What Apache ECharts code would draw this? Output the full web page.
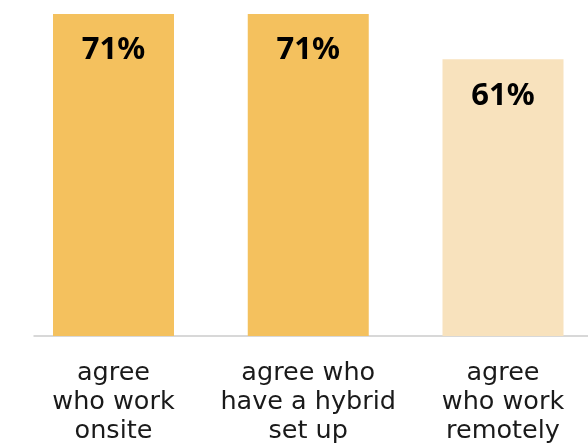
<!DOCTYPE html>
<html>
<head>
<meta charset="utf-8">
<script src="https://cdn.jsdelivr.net/npm/echarts@6/dist/echarts.min.js"></script>
<style>
html,body{margin:0;padding:0;background:#fff;}
#c{width:588px;height:446px;}
</style>
</head>
<body>
<div id="c"></div>
<script>
const categories = ['agree\nwho work\nonsite', 'agree who\nhave a hybrid\nset up', 'agree\nwho work\nremotely'];
const values = [71, 71, 61];
const barColors = ['#F4C15E', '#F4C15E', '#F8E2BD'];

const chart = echarts.init(document.getElementById('c'), null, {renderer: 'canvas'});
chart.setOption({
  animation: false,
  backgroundColor: '#ffffff',
  grid: [
    {left: 113.5, right: 85, top: 14, bottom: 110},
    {left: 34, right: 0, top: 14, bottom: 110}
  ],
  xAxis: [
    {
      type: 'category', gridIndex: 0, data: categories, boundaryGap: false,
      axisLine: {show: false}, axisTick: {show: false},
      axisLabel: {
        interval: 0, margin: 23, color: '#1a1a1a',
        fontFamily: 'DejaVu Sans', fontSize: 25.5, lineHeight: 29
      }
    },
    {
      type: 'value', gridIndex: 1, min: 0, max: 1,
      axisLine: {show: true, lineStyle: {color: '#cccccc', width: 1.5}},
      axisTick: {show: false}, axisLabel: {show: false}, splitLine: {show: false}
    }
  ],
  yAxis: [
    {type: 'value', gridIndex: 0, min: 0, max: 71, show: false},
    {type: 'value', gridIndex: 1, min: 0, max: 1, show: false}
  ],
  series: [{
    type: 'bar', xAxisIndex: 0, yAxisIndex: 0,
    barWidth: 121, clip: false,
    data: values.map((v, i) => ({value: v, itemStyle: {color: barColors[i]}})),
    label: {
      show: true, position: 'insideTop', distance: 21,
      formatter: '{c}%', color: '#000', fontFamily: 'Noto Sans',
      fontWeight: 'bold', fontSize: 31
    }
  }]
});
</script>
</body>
</html>
